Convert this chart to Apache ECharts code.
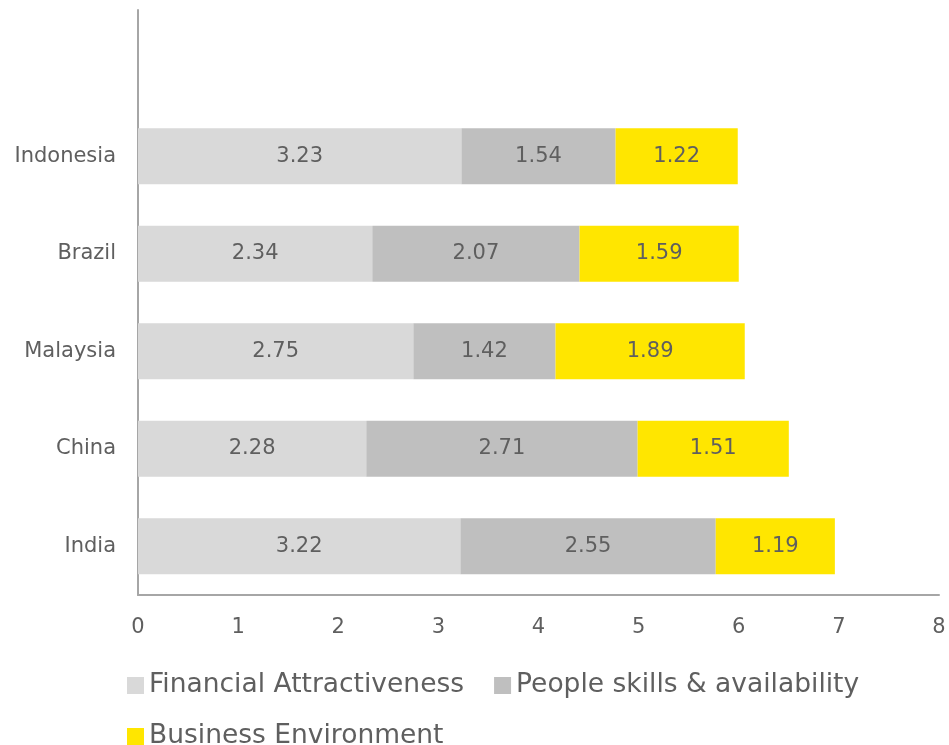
<!DOCTYPE html>
<html><head><meta charset="utf-8">
<script src="https://cdn.jsdelivr.net/npm/echarts@6/dist/echarts.min.js"></script>
<style>html,body{margin:0;padding:0;background:#fff}#c{width:949px;height:745px}</style>
</head><body><div id="c"></div>
<script>
var categories = ['India', 'China', 'Malaysia', 'Brazil', 'Indonesia', ''];
var financial = [3.22, 2.28, 2.75, 2.34, 3.23, null];
var people = [2.55, 2.71, 1.42, 2.07, 1.54, null];
var business = [1.19, 1.51, 1.89, 1.59, 1.22, null];
var xTicks = [0, 1, 2, 3, 4, 5, 6, 7, 8];
var names = ['Financial Attractiveness', 'People skills & availability', 'Business Environment'];
var colors = ['#d9d9d9', '#bfbfbf', '#ffe600'];
var font = 'DejaVu Sans, sans-serif';
var txt = '#5f5f5f';

var chart = echarts.init(document.getElementById('c'));
function mk(i, data) {
  return {
    name: names[i], type: 'bar', stack: 's', data: data, barWidth: 56,
    itemStyle: { color: colors[i] },
    label: { show: true, position: 'inside', color: txt, fontSize: 21, fontFamily: font,
      formatter: function (p) { return p.value == null ? '' : p.value.toFixed(2); } }
  };
}
chart.setOption({
  animation: false,
  grid: { left: 138, right: 10, top: 10, bottom: 150, containLabel: false },
  legend: [
    { data: [names[0], names[1]], left: 122, top: 667, itemWidth: 17, itemHeight: 17, itemGap: 30,
      icon: 'rect', textStyle: { fontSize: 26.5, color: txt, fontFamily: font } },
    { data: [names[2]], left: 122, top: 718, itemWidth: 17, itemHeight: 17,
      icon: 'rect', textStyle: { fontSize: 26.5, color: txt, fontFamily: font } }
  ],
  xAxis: { type: 'value', min: xTicks[0], max: xTicks[xTicks.length - 1], interval: 1,
    axisLine: { show: true, lineStyle: { color: '#a6a6a6', width: 2 } },
    axisTick: { show: false }, splitLine: { show: false },
    axisLabel: { color: txt, fontSize: 21, fontFamily: font, margin: 22 } },
  yAxis: { type: 'category', data: categories,
    axisLine: { show: true, lineStyle: { color: '#a6a6a6', width: 2 } },
    axisTick: { show: false },
    axisLabel: { color: txt, fontSize: 21, fontFamily: font, margin: 22 } },
  series: [mk(0, financial), mk(1, people), mk(2, business)]
});
</script></body></html>
